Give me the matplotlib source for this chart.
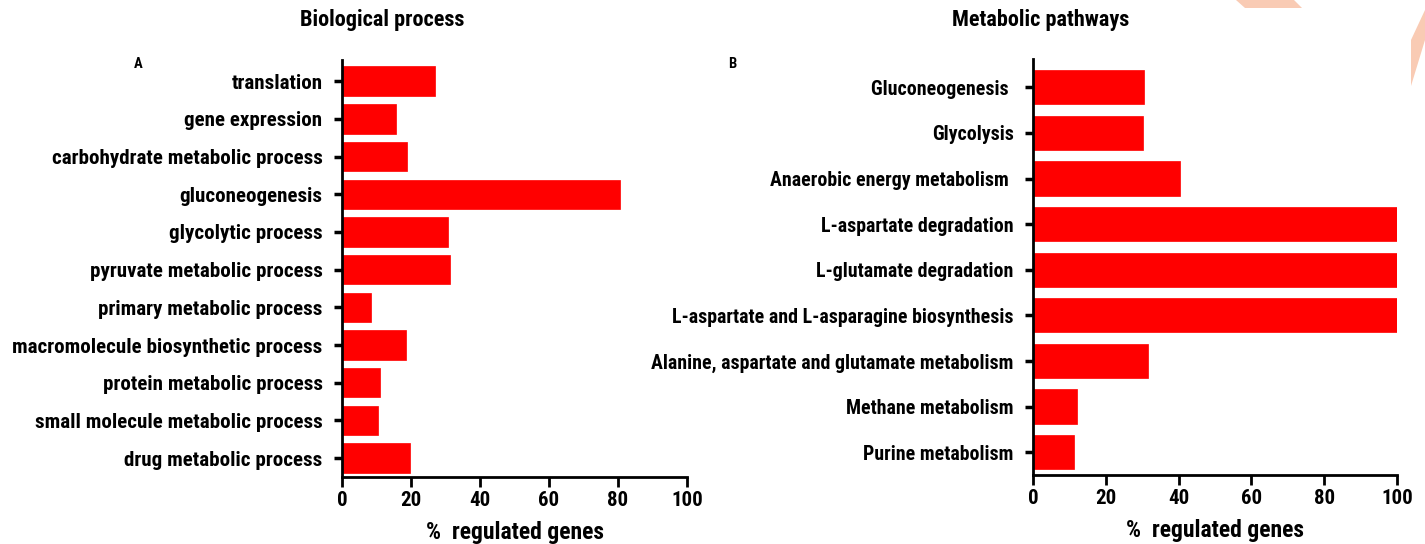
import matplotlib.pyplot as plt
from matplotlib.patches import Polygon

plt.rcParams['font.family'] = ['Roboto Condensed', 'Liberation Sans', 'DejaVu Sans']
plt.rcParams['font.weight'] = 'bold'

# panel A: GO biological process
bp_terms = ['translation', 'gene expression', 'carbohydrate metabolic process',
            'gluconeogenesis', 'glycolytic process', 'pyruvate metabolic process',
            'primary metabolic process', 'macromolecule biosynthetic process',
            'protein metabolic process', 'small molecule metabolic process',
            'drug metabolic process']
bp_pct = [27.1, 15.6, 18.7, 80.6, 30.8, 31.3, 8.4, 18.5, 11.0, 10.4, 19.7]

# panel B: metabolic pathways
mp_terms = ['Gluconeogenesis ', 'Glycolysis', 'Anaerobic energy metabolism ',
            'L-aspartate degradation', 'L-glutamate degradation',
            'L-aspartate and L-asparagine biosynthesis',
            'Alanine, aspartate and glutamate metabolism',
            'Methane metabolism', 'Purine metabolism']
mp_pct = [30.5, 30.2, 40.4, 100, 100, 100, 31.6, 12.1, 11.3]

W, H = 1425, 544
fig = plt.figure(figsize=(W / 100, H / 100), dpi=100)

def px_axes(x0, x1, y0, y1):
    return fig.add_axes([x0 / W, 1 - y1 / H, (x1 - x0) / W, (y1 - y0) / H])

def style(ax, labels, vals, height, ylim, fs):
    ypos = list(range(len(labels)))
    ax.barh(ypos, vals, height=height, color='#ff0000', edgecolor='#ff0000', linewidth=0.5)
    ax.set_yticks(ypos)
    ax.set_yticklabels(labels, fontsize=fs, fontweight='bold')
    ax.set_ylim(*ylim)
    ax.set_xlim(0, 100)
    ax.set_xticks([0, 20, 40, 60, 80, 100])
    ax.tick_params(axis='x', labelsize=15, width=2, length=7, pad=3)
    ax.tick_params(axis='y', width=2.5, length=6, pad=8)
    for lab in ax.get_xticklabels():
        lab.set_fontweight('bold')
    for s in ['top', 'right']:
        ax.spines[s].set_visible(False)
    for s in ['left', 'bottom']:
        ax.spines[s].set_linewidth(2)
    ax.set_xlabel('%  regulated genes', fontsize=17, fontweight='bold', labelpad=8)

axA = px_axes(342, 687, 60, 477)
style(axA, bp_terms, bp_pct, 0.78, (10.5, -0.56), 15.1)

axB = px_axes(1033, 1397, 59, 475)
style(axB, mp_terms, mp_pct, 0.75, (8.5, -0.62), 14.3)

fig.text(382 / W, 1 - 20 / H, 'Biological process', ha='center', va='center',
         fontsize=16, fontweight='bold')
fig.text(1041 / W, 1 - 20 / H, 'Metabolic pathways', ha='center', va='center',
         fontsize=16, fontweight='bold')
fig.text(138 / W, 1 - 64 / H, 'A', ha='center', va='center', fontsize=10.5, fontweight='bold')
fig.text(732 / W, 1 - 64 / H, 'B', ha='center', va='center', fontsize=10.5, fontweight='bold')

# faint watermark shape in the top-right corner
wm = '#f9cbb4'
for pts in ([(1236, 0), (1294, 0), (1302, 8), (1245, 8)],
            [(1425, 10), (1425, 40), (1411, 86), (1411, 40)]):
    fig.patches.append(Polygon([(x / W, 1 - y / H) for x, y in pts], closed=True,
                               transform=fig.transFigure, facecolor=wm, edgecolor='none'))

fig.savefig('out.png', dpi=100)
